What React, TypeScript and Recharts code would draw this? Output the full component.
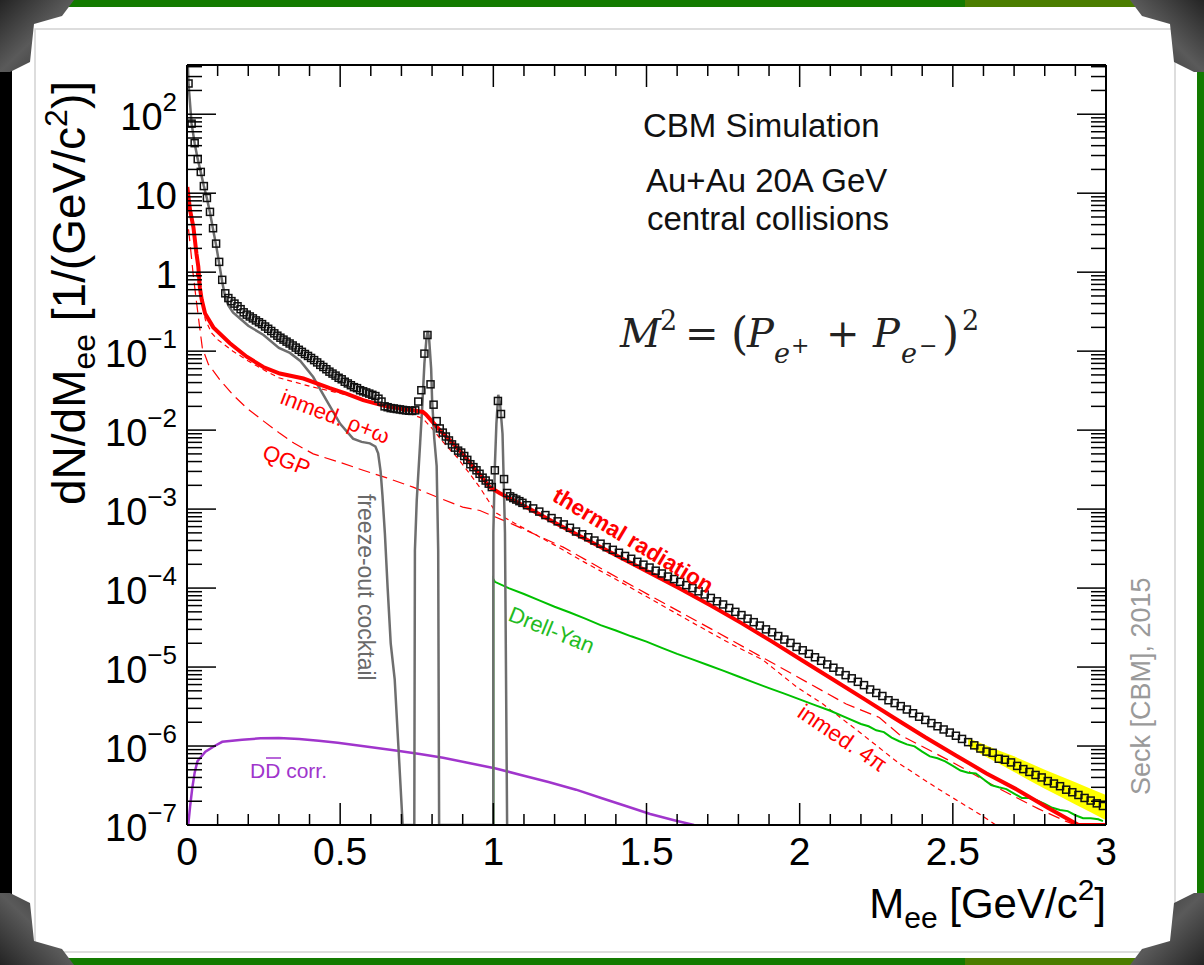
import React from 'react';
import { ComposedChart, Line, Area, XAxis, YAxis } from 'recharts';

const FONT = '"Liberation Sans", Arial, Helvetica, sans-serif';
const SERIF = '"DejaVu Serif", "Liberation Serif", serif';

// ---------- axes ----------
const massTicks = [0, 0.1, 0.2, 0.3, 0.4, 0.5, 0.6, 0.7, 0.8, 0.9, 1, 1.1, 1.2, 1.3, 1.4, 1.5, 1.6, 1.7, 1.8, 1.9, 2, 2.1, 2.2, 2.3, 2.4, 2.5, 2.6, 2.7, 2.8, 2.9, 3];
const majorMass = [0, 0.5, 1, 1.5, 2, 2.5, 3];
const majorMassLabels = ['0', '0.5', '1', '1.5', '2', '2.5', '3'];
const decades = [1e-7, 1e-6, 1e-5, 1e-4, 1e-3, 1e-2, 1e-1, 1, 10, 100];
const decadeExp = [-7, -6, -5, -4, -3, -2, -1, 0, 1, 2];
const minorFactors = [2, 3, 4, 5, 6, 7, 8, 9];
const Y_MIN = 1e-7;
const Y_MAX = 420;
const yTicks = decades.flatMap((d) => [d, ...minorFactors.map((f) => f * d)]).filter((v) => v <= Y_MAX);

// ---------- total yield (open squares), bin centres ----------
const lowBins = Array.from({ length: 110 }, (_, i) => +(0.005 + 0.01 * i).toFixed(3));
const highBins = Array.from({ length: 95 }, (_, i) => +(1.11 + 0.02 * i).toFixed(3));
const totalMass = [...lowBins, ...highBins];
const totalYield = [
  245, 76, 43, 27, 18.6, 12.3, 8.7, 5.8, 3.6, 2.3,
  1.35, 0.8, 0.54, 0.47, 0.43, 0.4, 0.37, 0.34, 0.31, 0.29,
  0.275, 0.26, 0.245, 0.232, 0.22, 0.205, 0.192, 0.18, 0.168, 0.157,
  0.148, 0.14, 0.132, 0.125, 0.118, 0.111, 0.104, 0.098, 0.092, 0.087,
  0.082, 0.077, 0.072, 0.067, 0.063, 0.059, 0.055, 0.052, 0.049, 0.046,
  0.044, 0.041, 0.039, 0.037, 0.035, 0.034, 0.032, 0.031, 0.03, 0.029,
  0.028, 0.027, 0.025, 0.023, 0.02, 0.0195, 0.019, 0.0188, 0.0185, 0.0183,
  0.018, 0.0178, 0.0176, 0.0175, 0.0178, 0.023, 0.032, 0.093, 0.16, 0.038,
  0.021, 0.013, 0.0105, 0.0093, 0.0083, 0.0074, 0.0066, 0.006, 0.0055, 0.0052,
  0.0047, 0.0042, 0.0037, 0.0034, 0.0031, 0.0028, 0.0025, 0.0023, 0.0021, 0.0019,
  0.0031, 0.0234, 0.016, 0.0024, 0.0016, 0.00145, 0.00138, 0.00132, 0.00126, 0.0012,
  // 1.11 .. 2.99
  1.12e-3, 1.02e-3, 9.3e-4, 8.4e-4, 7.7e-4, 7.0e-4, 6.4e-4, 5.8e-4, 5.2e-4, 4.8e-4,
  4.4e-4, 4.0e-4, 3.65e-4, 3.3e-4, 3.05e-4, 2.8e-4, 2.55e-4, 2.35e-4, 2.15e-4, 1.98e-4,
  1.82e-4, 1.66e-4, 1.53e-4, 1.4e-4, 1.3e-4, 1.2e-4, 1.09e-4, 1.0e-4, 9.1e-5, 8.3e-5,
  7.5e-5, 6.8e-5, 6.2e-5, 5.6e-5, 5.0e-5, 4.55e-5, 4.1e-5, 3.7e-5, 3.35e-5, 3.0e-5,
  2.75e-5, 2.47e-5, 2.23e-5, 2.02e-5, 1.8e-5, 1.63e-5, 1.47e-5, 1.33e-5, 1.2e-5, 1.08e-5,
  9.8e-6, 8.8e-6, 7.9e-6, 7.2e-6, 6.5e-6, 5.9e-6, 5.2e-6, 4.7e-6, 4.3e-6, 3.8e-6,
  3.5e-6, 3.2e-6, 2.9e-6, 2.6e-6, 2.35e-6, 2.14e-6, 1.95e-6, 1.78e-6, 1.62e-6, 1.48e-6,
  1.35e-6, 1.23e-6, 1.12e-6, 1.02e-6, 9.3e-7, 8.5e-7, 8.2e-7, 6.9e-7, 6.7e-7, 6.2e-7,
  5.6e-7, 5.1e-7, 4.7e-7, 4.3e-7, 4.0e-7, 3.6e-7, 3.35e-7, 3.1e-7, 2.8e-7, 2.6e-7,
  2.4e-7, 2.2e-7, 2.04e-7, 1.88e-7, 1.74e-7,
];

// yellow uncertainty band on the total
const bandMass = [2.55, 2.6, 2.65, 2.7, 2.75, 2.8, 2.85, 2.9, 2.95, 3.0];
const bandLow = [1.0e-6, 7.6e-7, 6.0e-7, 4.7e-7, 3.67e-7, 2.88e-7, 2.29e-7, 1.82e-7, 1.45e-7, 1.15e-7];
const bandHigh = [1.26e-6, 1.05e-6, 8.8e-7, 7.4e-7, 6.1e-7, 5.0e-7, 4.17e-7, 3.47e-7, 2.88e-7, 2.4e-7];

// ---------- freeze-out cocktail (grey) ----------
const cocktailMass = [0.003, 0.005, 0.015, 0.025, 0.035, 0.045, 0.055, 0.065, 0.075, 0.085, 0.095, 0.105, 0.115, 0.125, 0.135, 0.15, 0.175, 0.2, 0.25, 0.3, 0.336, 0.37, 0.412, 0.455, 0.5, 0.542, 0.57, 0.597, 0.615, 0.624, 0.632, 0.638, 0.646, 0.655, 0.665, 0.678, 0.69, 0.704, 0.742, 0.744, 0.75, 0.761, 0.768, 0.775, 0.782, 0.786, 0.79, 0.797, 0.8, 0.807, 0.815, 0.82, 0.823, 1.0, 1.0, 1.005, 1.01, 1.016, 1.022, 1.03, 1.035, 1.038, 1.045];
const cocktailYield = [400, 240, 76, 43, 27, 18.5, 12.3, 8.6, 5.7, 3.5, 2.2, 1.3, 0.75, 0.48, 0.38, 0.31, 0.255, 0.21, 0.16, 0.11, 0.095, 0.075, 0.047, 0.024, 0.012, 0.0078, 0.0071, 0.0068, 0.0062, 0.0051, 0.003, 0.0015, 4.9e-4, 1e-4, 2e-5, 7e-6, 1e-6, 1e-7, 1e-7, 3e-4, 1.3e-3, 6.8e-3, 0.02, 0.07, 0.15, 0.18, 0.15, 0.06, 0.025, 0.008, 3.5e-3, 3e-4, 1e-7, 1e-7, 5e-4, 3.5e-3, 0.012, 0.028, 0.022, 9e-3, 1.5e-3, 5e-4, 1e-7];

// ---------- thermal radiation (thick red) ----------
const thermalMass = [0.001, 0.01, 0.021, 0.031, 0.037, 0.042, 0.048, 0.059, 0.086, 0.14, 0.195, 0.249, 0.303, 0.38, 0.466, 0.52, 0.575, 0.651, 0.72, 0.77, 0.78, 0.825, 0.86, 0.9, 0.95, 0.988, 1.02, 1.064, 1.11, 1.21, 1.31, 1.41, 1.51, 1.61, 1.71, 1.81, 1.91, 2.01, 2.11, 2.21, 2.31, 2.41, 2.51, 2.61, 2.71, 2.81, 2.91, 3.0];
const thermalYield = [12, 6.1, 3.7, 1.7, 1.17, 0.64, 0.45, 0.3, 0.2, 0.126, 0.085, 0.063, 0.052, 0.045, 0.034, 0.029, 0.024, 0.02, 0.0183, 0.017, 0.0158, 0.01, 0.0073, 0.005, 0.0029, 0.0019, 0.0016, 0.0013, 1.05e-3, 6.45e-4, 4.0e-4, 2.5e-4, 1.57e-4, 9.8e-5, 6.0e-5, 3.6e-5, 2.1e-5, 1.2e-5, 6.9e-6, 3.95e-6, 2.25e-6, 1.29e-6, 7.6e-7, 4.5e-7, 2.8e-7, 1.65e-7, 1.0e-7, 1.0e-7];

// ---------- components (thin dashed red) ----------
const qgpMass = [0.005, 0.01, 0.02, 0.03, 0.04, 0.05, 0.07, 0.108, 0.15, 0.195, 0.25, 0.303, 0.35, 0.412, 0.5, 0.575, 0.65, 0.738, 0.82, 0.9, 0.956, 1.064, 1.228, 1.36, 1.5, 1.717, 1.935, 2.152, 2.26, 2.325, 2.5, 2.65, 2.78, 2.868, 2.9, 3.0];
const qgpYield = [3.5, 2.3, 0.95, 0.45, 0.22, 0.11, 0.068, 0.043, 0.028, 0.019, 0.013, 0.0091, 0.0068, 0.005, 0.0039, 0.0031, 0.0025, 0.0019, 0.0014, 0.00106, 9.6e-4, 6.4e-4, 3.3e-4, 1.7e-4, 8.5e-5, 2.95e-5, 1.0e-5, 3.4e-6, 2.3e-6, 1.4e-6, 6.2e-7, 2.9e-7, 1.6e-7, 1.12e-7, 1e-7, 1e-7];

const rhoMass = [0.03, 0.045, 0.06, 0.08, 0.1, 0.15, 0.2, 0.25, 0.3, 0.4, 0.52, 0.6, 0.68, 0.74, 0.77, 0.8, 0.83, 0.88, 0.92, 0.955, 1.01, 1.1, 1.2, 1.3, 1.4, 1.5, 1.653, 1.772, 1.88, 1.99, 2.076, 2.2, 2.325, 2.45, 2.597, 2.64, 3.0];
const rhoYield = [1.0, 0.5, 0.25, 0.17, 0.14, 0.1, 0.075, 0.058, 0.046, 0.036, 0.028, 0.023, 0.019, 0.0155, 0.014, 0.0105, 0.0075, 0.0046, 0.0029, 0.0019, 8.9e-4, 5.7e-4, 3.5e-4, 2.1e-4, 1.29e-4, 7.8e-5, 3.6e-5, 2.0e-5, 1.23e-5, 5.6e-6, 3.4e-6, 1.45e-6, 6e-7, 2.9e-7, 1.3e-7, 1e-7, 1e-7];

// ---------- Drell-Yan (green) ----------
const dyMass = [0, 1.0, 1.0, 1.005, 1.05, 1.1, 1.15, 1.2, 1.25, 1.3, 1.35, 1.4, 1.45, 1.5, 1.55, 1.6, 1.65, 1.7, 1.75, 1.8, 1.85, 1.9, 1.95, 2.0, 2.05, 2.1, 2.15, 2.2, 2.225, 2.25, 2.275, 2.3, 2.325, 2.35, 2.375, 2.4, 2.425, 2.45, 2.475, 2.5, 2.525, 2.55, 2.575, 2.6, 2.625, 2.65, 2.675, 2.7, 2.725, 2.75, 2.775, 2.8, 2.825, 2.85, 2.875, 2.9, 2.925, 2.95, 2.975, 2.99];
const dyYield = [1e-7, 1e-7, 1.3e-4, 1.2e-4, 1.0e-4, 8.4e-5, 7.0e-5, 5.8e-5, 4.9e-5, 4.1e-5, 3.4e-5, 2.9e-5, 2.45e-5, 2.1e-5, 1.75e-5, 1.47e-5, 1.25e-5, 1.06e-5, 9.0e-6, 7.6e-6, 6.4e-6, 5.4e-6, 4.6e-6, 3.9e-6, 3.3e-6, 2.8e-6, 2.3e-6, 1.9e-6, 1.78e-6, 1.58e-6, 1.5e-6, 1.28e-6, 1.15e-6, 1.05e-6, 9.9e-7, 8.5e-7, 7.4e-7, 7.0e-7, 6.4e-7, 5.6e-7, 4.9e-7, 4.6e-7, 4.5e-7, 3.8e-7, 3.2e-7, 3.0e-7, 2.85e-7, 2.5e-7, 2.2e-7, 2.2e-7, 2.05e-7, 1.85e-7, 1.65e-7, 1.55e-7, 1.5e-7, 1.33e-7, 1.22e-7, 1.22e-7, 1.18e-7, 1.12e-7];

// ---------- correlated charm (purple) ----------
const ddMass = [0.004, 0.01, 0.017, 0.025, 0.034, 0.06, 0.09, 0.115, 0.18, 0.24, 0.3, 0.366, 0.43, 0.492, 0.59, 0.687, 0.76, 0.836, 0.92, 1.008, 1.09, 1.18, 1.27, 1.352, 1.43, 1.512, 1.59, 1.655];
const ddYield = [1e-7, 1.7e-7, 2.9e-7, 4.6e-7, 6.4e-7, 8.5e-7, 1.0e-6, 1.13e-6, 1.2e-6, 1.25e-6, 1.26e-6, 1.23e-6, 1.17e-6, 1.1e-6, 9.8e-7, 8.7e-7, 7.9e-7, 7.1e-7, 6.1e-7, 5.2e-7, 4.3e-7, 3.5e-7, 2.8e-7, 2.2e-7, 1.75e-7, 1.38e-7, 1.15e-7, 1e-7];

const zip = (ms: number[], vs: number[]) => ms.map((m, i) => ({ m, v: vs[i] }));
const totalData = zip(totalMass, totalYield);
const bandData = bandMass.map((m, i) => ({ m, band: [bandLow[i], bandHigh[i]] }));
const cocktailData = zip(cocktailMass, cocktailYield);
const thermalData = zip(thermalMass, thermalYield);
const qgpData = zip(qgpMass, qgpYield);
const rhoData = zip(rhoMass, rhoYield);
const dyData = zip(dyMass, dyYield);
const ddData = zip(ddMass, ddYield);

const frameLine = { stroke: '#000', strokeWidth: 2 };

const decadeIndex = (v: number) => decades.findIndex((d) => Math.abs(v / d - 1) < 1e-9);
const majorIndex = (v: number) => majorMass.findIndex((d) => Math.abs(v - d) < 1e-9);

const DecadeLabel = ({ x, y, e }: { x: number; y: number; e: number }) => {
  const common = { x, y: y + 16, textAnchor: 'end' as const, fontSize: 38, fontFamily: FONT, fill: '#000' };
  if (e === 0) return <text {...common}>1</text>;
  if (e === 1) return <text {...common}>10</text>;
  return (
    <text {...common}>
      10<tspan fontSize={26} dy={-19}>{e < 0 ? `\u2212${-e}` : `${e}`}</tspan>
    </text>
  );
};

const LeftTick = (p: any) => {
  const idx = decadeIndex(p.payload.value);
  const len = idx >= 0 ? 29 : 15;
  return (
    <g>
      <line x1={p.x} x2={p.x + len} y1={p.y} y2={p.y} stroke="#000" strokeWidth={1.5} />
      {idx >= 0 && <DecadeLabel x={p.x - 10} y={p.y} e={decadeExp[idx]} />}
    </g>
  );
};

const RightTick = (p: any) => {
  const len = decadeIndex(p.payload.value) >= 0 ? 29 : 15;
  return <line x1={p.x} x2={p.x - len} y1={p.y} y2={p.y} stroke="#000" strokeWidth={1.5} />;
};

const BottomTick = (p: any) => {
  const idx = majorIndex(p.payload.value);
  const len = idx >= 0 ? 22 : 11;
  return (
    <g>
      <line x1={p.x} x2={p.x} y1={p.y} y2={p.y - len} stroke="#000" strokeWidth={1.5} />
      {idx >= 0 && (
        <text x={p.x} y={p.y + 40} textAnchor="middle" fontSize={39} fontFamily={FONT} fill="#000">
          {majorMassLabels[idx]}
        </text>
      )}
    </g>
  );
};

const TopTick = (p: any) => {
  const len = majorIndex(p.payload.value) >= 0 ? 22 : 11;
  return <line x1={p.x} x2={p.x} y1={p.y} y2={p.y + len} stroke="#000" strokeWidth={1.5} />;
};

const squareDot = (p: any) => {
  const key = `sq-${p.index}`;
  if (p.cx == null || p.cy == null) return <g key={key} />;
  return <rect key={key} x={p.cx - 3.5} y={p.cy - 3.5} width={7} height={7} fill="none" stroke="#111" strokeWidth={1.5} />;
};

// slide frame around the plot
const Decor = () => {
  const corner = '0,0 74,0 62,16 34,24 30,62 10,72 0,72';
  return (
    <svg width={1204} height={965} style={{ position: 'absolute', left: 0, top: 0 }}>
      <defs>
        <linearGradient id="metal" x1="0" y1="0" x2="1" y2="1">
          <stop offset="0" stopColor="#242424" />
          <stop offset="0.5" stopColor="#5a5a5a" />
          <stop offset="1" stopColor="#2e2e2e" />
        </linearGradient>
      </defs>
      <rect width={1204} height={965} fill="#fff" />
      <rect x={0} y={0} width={12} height={965} fill="#000" />
      <rect x={1197} y={0} width={7} height={965} fill="#137a00" />
      {[0, 958].map((y) => (
        <g key={y}>
          <rect x={0} y={y} width={40} height={7} fill="#000" />
          <rect x={40} y={y} width={8} height={7} fill="#22cc22" />
          <rect x={48} y={y} width={917} height={7} fill="#137a00" />
          <rect x={965} y={y} width={175} height={7} fill="#4b7d00" />
          <rect x={1140} y={y} width={64} height={7} fill="#137a00" />
        </g>
      ))}
      <rect x={35} y={29} width={1140} height={923} fill="none" stroke="#d2d2d2" strokeWidth={1.5} />
      <polygon points={corner} fill="url(#metal)" />
      <polygon points={corner} fill="url(#metal)" transform="translate(1204,0) scale(-1,1)" />
      <polygon points={corner} fill="url(#metal)" transform="translate(0,965) scale(1,-1)" />
      <polygon points={corner} fill="url(#metal)" transform="translate(1204,965) scale(-1,-1)" />
    </svg>
  );
};

const Annotations = () => (
  <svg width={1204} height={965} style={{ position: 'absolute', left: 0, top: 0, pointerEvents: 'none' }} fontFamily={FONT}>
    {/* axis titles */}
    <text transform="translate(85,293) rotate(-90)" textAnchor="middle" fontSize={46} fill="#000">
      dN/dM<tspan fontSize={32} dy={10}>ee</tspan>
      <tspan dy={-10}> [1/(GeV/c</tspan>
      <tspan fontSize={32} dy={-18}>2</tspan>
      <tspan dy={18}>)]</tspan>
    </text>
    <text x={1106} y={918} textAnchor="end" fontSize={42} fill="#000">
      M<tspan fontSize={30} dy={10}>ee</tspan>
      <tspan dy={-10}> [GeV/c</tspan>
      <tspan fontSize={30} dy={-18}>2</tspan>
      <tspan dy={18}>]</tspan>
    </text>

    {/* header */}
    <text x={643} y={137} fontSize={33} fill="#111">CBM Simulation</text>
    <text x={646} y={192} fontSize={33} fill="#111">Au+Au 20A GeV</text>
    <text x={647} y={230} fontSize={33} fill="#111">central collisions</text>

    {/* equation */}
    <g fontFamily={SERIF} fill="#222">
      <text x={620} y={347} fontSize={40} fontStyle="italic">M</text>
      <text x={660} y={330} fontSize={27}>2</text>
      <text x={685} y={347} fontSize={40}>=</text>
      <text x={731} y={349} fontSize={44}>(</text>
      <text x={747} y={347} fontSize={40} fontStyle="italic">P</text>
      <text x={774} y={363} fontSize={27} fontStyle="italic">e</text>
      <text x={791} y={353} fontSize={22}>+</text>
      <text x={826} y={347} fontSize={40}>+</text>
      <text x={873} y={347} fontSize={40} fontStyle="italic">P</text>
      <text x={901} y={363} fontSize={27} fontStyle="italic">e</text>
      <text x={919} y={353} fontSize={22}>{'\u2212'}</text>
      <text x={942} y={349} fontSize={44}>)</text>
      <text x={962} y={330} fontSize={27}>2</text>
    </g>

    {/* curve labels */}
    <text transform="translate(279,403) rotate(21)" fontSize={22} fill="#ff0000">inmed. ρ+ω</text>
    <text transform="translate(261,458) rotate(22)" fontSize={22} fill="#ff0000">QGP</text>
    <text transform="translate(358,494) rotate(90)" fontSize={23} fill="#6a6a6a">freeze-out cocktail</text>
    <text transform="translate(551,500) rotate(31)" fontSize={22.5} fontWeight="bold" fill="#ff0000">thermal radiation</text>
    <text transform="translate(507,620) rotate(22)" fontSize={22} fill="#22bb22">Drell-Yan</text>
    <text transform="translate(796,716) rotate(34)" fontSize={22.5} fill="#ff0000">inmed. 4π</text>
    <text x={250} y={778} fontSize={21} fill="#a035cc">DD corr.</text>
    <line x1={266} x2={281} y1={758} y2={758} stroke="#a035cc" strokeWidth={1.5} />
    <text transform="translate(1150,795) rotate(-90)" fontSize={27} fill="#9a9a9a">Seck [CBM], 2015</text>
  </svg>
);

export default function App() {
  return (
    <div style={{ position: 'absolute', left: 0, top: 0, width: 1204, height: 965, overflow: 'hidden', background: '#fff' }}>
      <Decor />
      <div style={{ position: 'absolute', left: 0, top: 0 }}>
        <ComposedChart width={1204} height={965} margin={{ top: 64, right: 97, bottom: 139, left: 0 }}>
          <XAxis dataKey="m" type="number" domain={[0, 3]} ticks={massTicks} interval={0} allowDataOverflow
            height={1} tickSize={0} tickMargin={0} axisLine={frameLine} tickLine={false} tick={(p: any) => <BottomTick {...p} />} />
          <XAxis xAxisId="top" orientation="top" dataKey="m" type="number" domain={[0, 3]} ticks={massTicks} interval={0} allowDataOverflow
            height={1} tickSize={0} tickMargin={0} axisLine={frameLine} tickLine={false} tick={(p: any) => <TopTick {...p} />} />
          <YAxis type="number" scale="log" domain={[Y_MIN, Y_MAX]} ticks={yTicks} interval={0} allowDataOverflow
            width={187} tickSize={0} tickMargin={0} axisLine={frameLine} tickLine={false} tick={(p: any) => <LeftTick {...p} />} />
          <YAxis yAxisId="right" orientation="right" type="number" scale="log" domain={[Y_MIN, Y_MAX]} ticks={yTicks} interval={0} allowDataOverflow
            width={1} tickSize={0} tickMargin={0} axisLine={frameLine} tickLine={false} tick={(p: any) => <RightTick {...p} />} />

          <Area data={bandData} dataKey="band" type="linear" stroke="none" fill="#ffff00" fillOpacity={1} isAnimationActive={false} />
          <Line data={ddData} dataKey="v" type="linear" stroke="#a035cc" strokeWidth={2.5} dot={false} activeDot={false} isAnimationActive={false} />
          <Line data={qgpData} dataKey="v" type="linear" stroke="#ff0000" strokeWidth={1.2} strokeDasharray="12 6" dot={false} activeDot={false} isAnimationActive={false} />
          <Line data={rhoData} dataKey="v" type="linear" stroke="#ff0000" strokeWidth={1.2} strokeDasharray="5 4" dot={false} activeDot={false} isAnimationActive={false} />
          <Line data={dyData} dataKey="v" type="linear" stroke="#00c000" strokeWidth={2} dot={false} activeDot={false} isAnimationActive={false} />
          <Line data={cocktailData} dataKey="v" type="linear" stroke="#6e6e6e" strokeWidth={2.5} dot={false} activeDot={false} isAnimationActive={false} />
          <Line data={totalData} dataKey="v" type="linear" stroke="none" dot={squareDot} activeDot={false} isAnimationActive={false} />
          <Line data={thermalData} dataKey="v" type="linear" stroke="#ff0000" strokeWidth={4} dot={false} activeDot={false} isAnimationActive={false} />
        </ComposedChart>
      </div>
      <Annotations />
    </div>
  );
}
